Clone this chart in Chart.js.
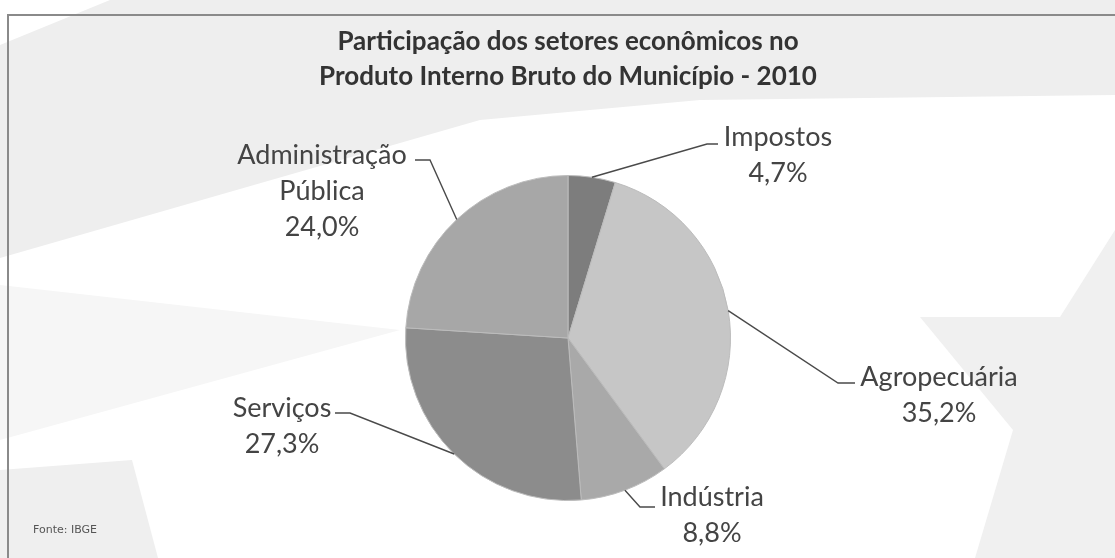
<!DOCTYPE html>
<html>
<head>
<meta charset="utf-8">
<script src="https://cdn.jsdelivr.net/npm/chart.js@4.4.0/dist/chart.umd.min.js"></script>
<style>
html, body { margin: 0; padding: 0; background: #fff; }
#wrap { width: 1115px; height: 558px; }
</style>
</head>
<body>
<div id="wrap"><canvas id="pibChart"></canvas></div>
<script>
const setores = ['Impostos', 'Agropecuária', 'Indústria', 'Serviços', 'Administração Pública'];
const participacao = [4.7, 35.2, 8.8, 27.3, 24.0];
const titulo = ['Participação dos setores econômicos no', 'Produto Interno Bruto do Município - 2010'];
const fonte = 'Fonte: IBGE';

const cores = ['#7d7d7d', '#c6c6c6', '#a9a9a9', '#8c8c8c', '#a7a7a7'];

// where each label sits: text centre x, first line centre y, tick (from x1 to x2 at y)
const rotulos = [
    { cx: 778, cy: 137, t1: 718, t2: 707, ty: 144 },
    { cx: 939, cy: 377, t1: 855, t2: 838, ty: 383 },
    { cx: 712, cy: 497, t1: 655, t2: 640, ty: 507 },
    { cx: 282, cy: 408, t1: 335, t2: 350, ty: 413 },
    { cx: 322, cy: 155, t1: 415, t2: 430, ty: 160 }
];

function fmt(v) {
    return v.toFixed(1).replace('.', ',') + '%';
}

function poly(ctx, pts, color) {
    ctx.beginPath();
    ctx.moveTo(pts[0][0], pts[0][1]);
    for (let i = 1; i < pts.length; i++) ctx.lineTo(pts[i][0], pts[i][1]);
    ctx.closePath();
    ctx.fillStyle = color;
    ctx.fill();
}

const fundo = {
    id: 'fundo',
    beforeDraw(chart) {
        const ctx = chart.ctx;
        ctx.save();
        ctx.fillStyle = '#ffffff';
        ctx.fillRect(0, 0, chart.width, chart.height);
        // faint star watermark of the scanned page
        poly(ctx, [[0, 45], [110, 0], [1115, 0], [1115, 95], [700, 100], [480, 120], [0, 258]], '#eeeeee');
        poly(ctx, [[0, 285], [400, 330], [0, 440]], '#f6f6f6');
        poly(ctx, [[0, 470], [132, 460], [158, 558], [0, 558]], '#efefef');
        poly(ctx, [[920, 317], [1060, 317], [1115, 230], [1115, 558], [975, 558], [1013, 430]], '#f0f0f0');
        // frame
        ctx.strokeStyle = '#8a8a8a';
        ctx.lineWidth = 2;
        ctx.beginPath();
        ctx.moveTo(8, 558);
        ctx.lineTo(8, 15);
        ctx.lineTo(1115, 15);
        ctx.stroke();
        ctx.restore();
    },
    afterDraw(chart) {
        const ctx = chart.ctx;
        const arcs = chart.getDatasetMeta(0).data;
        ctx.save();
        ctx.strokeStyle = '#4a4a4a';
        ctx.lineWidth = 1.4;
        ctx.fillStyle = '#444444';
        ctx.font = '27px Lato';
        ctx.textAlign = 'center';
        ctx.textBaseline = 'middle';
        arcs.forEach(function(arc, i) {
            const p = arc.getProps(['x', 'y', 'startAngle', 'endAngle', 'outerRadius'], true);
            const mid = (p.startAngle + p.endAngle) / 2;
            const sx = p.x + Math.cos(mid) * p.outerRadius;
            const sy = p.y + Math.sin(mid) * p.outerRadius;
            const r = rotulos[i];
            ctx.beginPath();
            ctx.moveTo(sx, sy);
            ctx.lineTo(r.t2, r.ty);
            ctx.lineTo(r.t1, r.ty);
            ctx.stroke();
            const linhas = setores[i].split(' ').concat([fmt(participacao[i])]);
            linhas.forEach(function(txt, k) {
                ctx.fillText(txt, r.cx, r.cy + k * 36);
            });
        });
        ctx.font = '11px "DejaVu Sans"';
        ctx.textAlign = 'left';
        ctx.fillStyle = '#555555';
        ctx.fillText(fonte, 33, 530);
        ctx.restore();
    }
};

new Chart(document.getElementById('pibChart').getContext('2d'), {
    type: 'pie',
    data: {
        labels: setores,
        datasets: [{
            data: participacao,
            backgroundColor: cores,
            borderColor: '#bcbcbc',
            borderWidth: 1,
            hoverOffset: 0
        }]
    },
    options: {
        responsive: true,
        maintainAspectRatio: false,
        animation: false,
        layout: { padding: { top: 0, left: 21, right: 0, bottom: 57 } },
        plugins: {
            legend: { display: false },
            tooltip: { enabled: false },
            title: {
                display: true,
                text: titulo,
                color: '#333333',
                font: { family: 'Lato', size: 26, weight: 'bold', lineHeight: 35 / 26 },
                padding: { top: 24, bottom: 81 }
            }
        }
    },
    plugins: [fundo]
});
</script>
</body>
</html>
